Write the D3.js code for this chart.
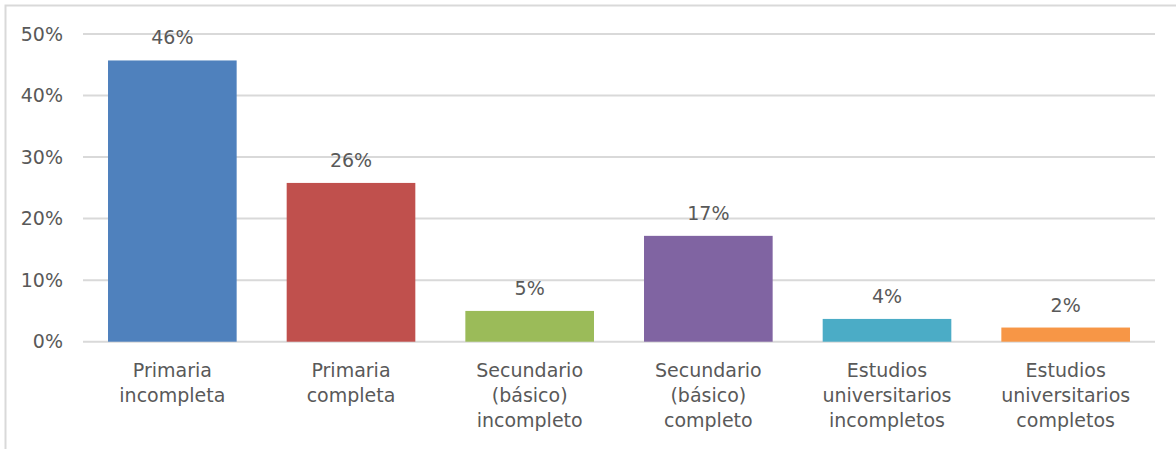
<!DOCTYPE html>
<html>
<head>
<meta charset="utf-8">
<script src="https://cdn.jsdelivr.net/npm/d3@7"></script>
<style>
  body { margin: 0; background: #fff; }
  text { font-family: "DejaVu Sans", sans-serif; fill: #595959; }
</style>
</head>
<body>
<svg id="chart" width="1176" height="449"></svg>
<script>
// data
var categories = [
    ["Primaria", "incompleta"],
    ["Primaria", "completa"],
    ["Secundario", "(básico)", "incompleto"],
    ["Secundario", "(básico)", "completo"],
    ["Estudios", "universitarios", "incompletos"],
    ["Estudios", "universitarios", "completos"]
];
var values = [45.7, 25.8, 5.0, 17.2, 3.7, 2.3];
var valueLabels = ["46%", "26%", "5%", "17%", "4%", "2%"];
var yTicks = [0, 10, 20, 30, 40, 50];
var colors = ["#4F81BD", "#C0504D", "#9BBB59", "#8064A2", "#4BACC6", "#F79646"];

var fontSize = 19;
var svg = d3.select("#chart");

// chart border (only top + left visible in the crop)
svg.append("rect")
    .attr("x", 5.5).attr("y", 5.5)
    .attr("width", 1200).attr("height", 500)
    .attr("fill", "none")
    .attr("stroke", "#d9d9d9")
    .attr("stroke-width", 2);

var plotLeft = 83, plotRight = 1155, plotTop = 34, plotBottom = 341.7;

var x = d3.scaleBand()
    .domain(d3.range(categories.length))
    .range([plotLeft, plotRight])
    .paddingInner(0.28)
    .paddingOuter(0.14);

var y = d3.scaleLinear().domain([0, 50]).range([plotBottom, plotTop]);

// gridlines
svg.append("g")
    .selectAll("line")
    .data(yTicks)
    .join("line")
    .attr("x1", plotLeft).attr("x2", plotRight)
    .attr("y1", function(d) { return y(d); })
    .attr("y2", function(d) { return y(d); })
    .attr("stroke", "#d9d9d9")
    .attr("stroke-width", 2);

// y axis labels
var yAxis = d3.axisLeft(y)
    .tickValues(yTicks)
    .tickFormat(function(d) { return d + "%"; })
    .tickSize(0)
    .tickPadding(20);

svg.append("g")
    .attr("transform", "translate(" + plotLeft + ",0)")
    .call(yAxis)
    .call(function(g) { g.select(".domain").remove(); })
    .selectAll("text")
    .attr("font-size", fontSize)
    .attr("font-family", "DejaVu Sans")
    .attr("fill", "#595959");

// bars
svg.append("g")
    .selectAll("rect")
    .data(values)
    .join("rect")
    .attr("x", function(d, i) { return x(i); })
    .attr("y", function(d) { return y(d); })
    .attr("width", x.bandwidth())
    .attr("height", function(d) { return y(0) - y(d); })
    .attr("fill", function(d, i) { return colors[i]; });

// value labels
svg.append("g")
    .selectAll("text")
    .data(values)
    .join("text")
    .attr("x", function(d, i) { return x(i) + x.bandwidth() / 2; })
    .attr("y", function(d) { return y(d) - 16; })
    .attr("text-anchor", "middle")
    .attr("font-size", fontSize)
    .text(function(d, i) { return valueLabels[i]; });

// category labels
var cat = svg.append("g")
    .selectAll("text")
    .data(categories)
    .join("text")
    .attr("x", function(d, i) { return x(i) + x.bandwidth() / 2; })
    .attr("y", 377)
    .attr("text-anchor", "middle")
    .attr("font-size", fontSize);

cat.selectAll("tspan")
    .data(function(d) { return d; })
    .join("tspan")
    .attr("x", function() { return d3.select(this.parentNode).attr("x"); })
    .attr("dy", function(d, i) { return i === 0 ? 0 : 25; })
    .text(function(d) { return d; });
</script>
</body>
</html>
